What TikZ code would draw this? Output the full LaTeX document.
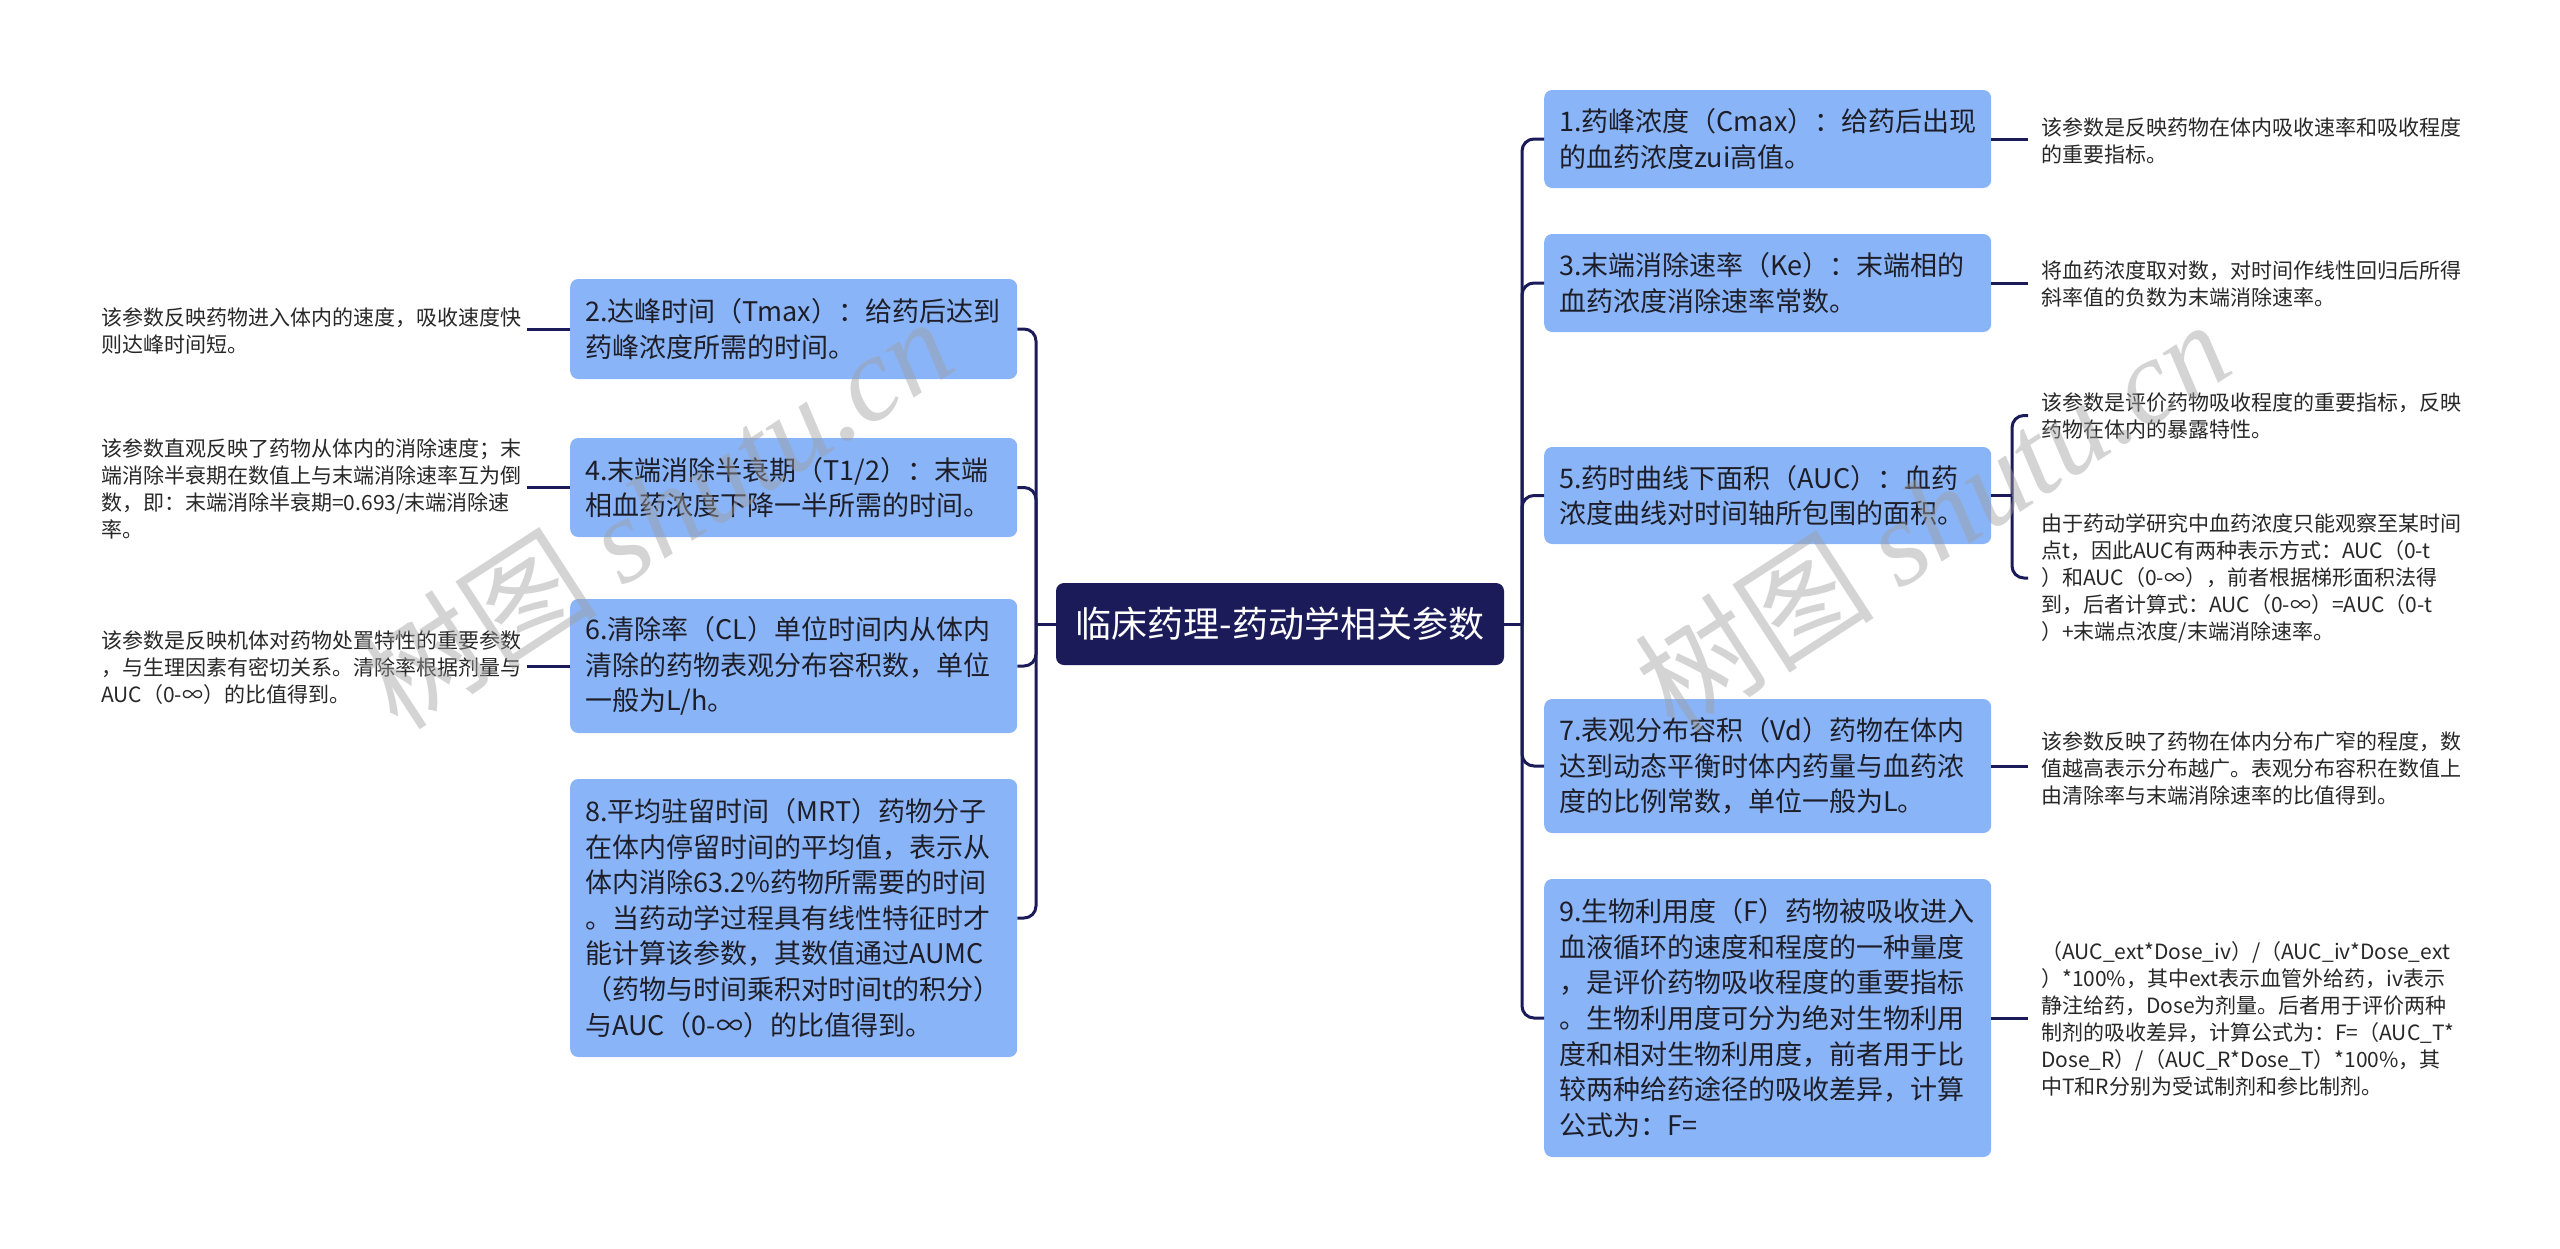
\documentclass[tikz,border=0pt]{standalone}
\usepackage{fontspec}
\setmainfont{Noto Sans CJK SC}
\newfontfamily\wmlat{Liberation Serif}
\definecolor{nodeblue}{RGB}{138,180,248}
\definecolor{navy}{RGB}{28,27,90}
\definecolor{nodetext}{RGB}{30,30,40}
\definecolor{leaftext}{RGB}{40,40,40}
\definecolor{wmgray}{RGB}{160,160,160}
\tikzset{
  centre/.style={fill=navy, rounded corners=8pt, text=white, inner sep=0pt, font=\fontsize{36}{40}\selectfont},
  sub/.style={fill=nodeblue, rounded corners=8pt, text width=417pt, inner xsep=15pt, inner ysep=6pt, align=left, font=\fontsize{27}{35.6}\selectfont, text=nodetext, anchor=west},
  leafL/.style={text width=420pt, inner xsep=6pt, inner ysep=0pt, align=left, font=\fontsize{21}{27}\selectfont, anchor=west, text=leaftext},
  leafR/.style={text width=420pt, inner xsep=13pt, inner ysep=0pt, align=left, font=\fontsize{21}{27}\selectfont, anchor=west, text=leaftext},
  conn/.style={draw=navy, line width=3pt, rounded corners=12pt},
  wm/.style={text=wmgray, opacity=0.45, inner sep=0pt, font=\fontsize{120}{130}\selectfont},
}
\begin{document}
\begin{tikzpicture}[x=1pt,y=-1pt]
\useasboundingbox (0,0) rectangle (2560,1248);
\fill[white] (0,0) rectangle (2560,1248);

% centre
\node[centre, minimum width=448pt, minimum height=82pt] (c) at (1280,624) {临床药理-药动学相关参数};

% left nodes
\node[sub, minimum height=100pt] (n2) at (570,329) {2.达峰时间（Tmax）：给药后达到\\药峰浓度所需的时间。};
\node[sub, minimum height=99pt] (n4) at (570,487.5) {4.末端消除半衰期（T1/2）：末端\\相血药浓度下降一半所需的时间。};
\node[sub, minimum height=134pt] (n6) at (570,666) {6.清除率（CL）单位时间内从体内\\清除的药物表观分布容积数，单位\\一般为L/h。};
\node[sub, minimum height=278pt] (n8) at (570,918) {8.平均驻留时间（MRT）药物分子\\在体内停留时间的平均值，表示从\\体内消除63.2\%药物所需要的时间\\。当药动学过程具有线性特征时才\\能计算该参数，其数值通过AUMC\\（药物与时间乘积对时间t的积分）\\与AUC（0-∞）的比值得到。};

% right nodes
\node[sub, minimum height=98pt] (n1) at (1544,139) {1.药峰浓度（Cmax）：给药后出现\\的血药浓度zui高值。};
\node[sub, minimum height=98pt] (n3) at (1544,283) {3.末端消除速率（Ke）：末端相的\\血药浓度消除速率常数。};
\node[sub, minimum height=97pt] (n5) at (1544,495.5) {5.药时曲线下面积（AUC）：血药\\浓度曲线对时间轴所包围的面积。};
\node[sub, minimum height=134pt] (n7) at (1544,766) {7.表观分布容积（Vd）药物在体内\\达到动态平衡时体内药量与血药浓\\度的比例常数，单位一般为L。};
\node[sub, minimum height=278pt] (n9) at (1544,1018) {9.生物利用度（F）药物被吸收进入\\血液循环的速度和程度的一种量度\\，是评价药物吸收程度的重要指标\\。生物利用度可分为绝对生物利用\\度和相对生物利用度，前者用于比\\较两种给药途径的吸收差异，计算\\公式为：F=};

% left leaves
\node[leafL] (l2) at (95,331) {该参数反映药物进入体内的速度，吸收速度快\\则达峰时间短。};
\node[leafL] (l4) at (95,489) {该参数直观反映了药物从体内的消除速度；末\\端消除半衰期在数值上与末端消除速率互为倒\\数，即：末端消除半衰期=0.693/末端消除速\\率。};
\node[leafL] (l6) at (95,668) {该参数是反映机体对药物处置特性的重要参数\\，与生理因素有密切关系。清除率根据剂量与\\AUC（0-∞）的比值得到。};

% right leaves
\node[leafR] (r1) at (2028,141) {该参数是反映药物在体内吸收速率和吸收程度\\的重要指标。};
\node[leafR] (r3) at (2028,284) {将血药浓度取对数，对时间作线性回归后所得\\斜率值的负数为末端消除速率。};
\node[leafR] (r5a) at (2028,415.5) {该参数是评价药物吸收程度的重要指标，反映\\药物在体内的暴露特性。};
\node[leafR] (r5b) at (2028,578) {由于药动学研究中血药浓度只能观察至某时间\\点t，因此AUC有两种表示方式：AUC（0-t\\）和AUC（0-∞），前者根据梯形面积法得\\到，后者计算式：AUC（0-∞）=AUC（0-t\\）+末端点浓度/末端消除速率。};
\node[leafR] (r7) at (2028,768) {该参数反映了药物在体内分布广窄的程度，数\\值越高表示分布越广。表观分布容积在数值上\\由清除率与末端消除速率的比值得到。};
\node[leafR] (r9) at (2028,1019) {（AUC\_ext*Dose\_iv）/（AUC\_iv*Dose\_ext\\）*100\%，其中ext表示血管外给药，iv表示\\静注给药，Dose为剂量。后者用于评价两种\\制剂的吸收差异，计算公式为：F=（AUC\_T*\\Dose\_R）/（AUC\_R*Dose\_T）*100\%，其\\中T和R分别为受试制剂和参比制剂。};

% connectors
\coordinate (lj) at (1036,624);
\coordinate (rj) at (1522,624);
\coordinate (bj) at (2012,495.5);
\draw[conn] (c.west) -- (lj);
\draw[conn] (c.east) -- (rj);
\foreach \n in {n2,n4,n6,n8} \draw[conn] (lj) |- (\n.east);
\foreach \n in {n1,n3,n5,n7,n9} \draw[conn] (rj) |- (\n.west);
\draw[conn] (n2.west) -- (n2.west -| l2.east);
\draw[conn] (n4.west) -- (n4.west -| l4.east);
\draw[conn] (n6.west) -- (n6.west -| l6.east);
\draw[conn] (n1.east) -- (n1.east -| r1.west);
\draw[conn] (n3.east) -- (n3.east -| r3.west);
\draw[conn] (n5.east) -- (bj);
\draw[conn] (bj) |- (r5a.west);
\draw[conn] (bj) |- (r5b.west);
\draw[conn] (n7.east) -- (n7.east -| r7.west);
\draw[conn] (n9.east) -- (n9.east -| r9.west);

% watermarks
\node[wm, rotate=33] (wm1) at (655,512) {树图 {\wmlat\itshape shutu.cn}};
\node[wm, rotate=33] (wm2) at (1932,515) {树图 {\wmlat\itshape shutu.cn}};
\end{tikzpicture}
\end{document}
